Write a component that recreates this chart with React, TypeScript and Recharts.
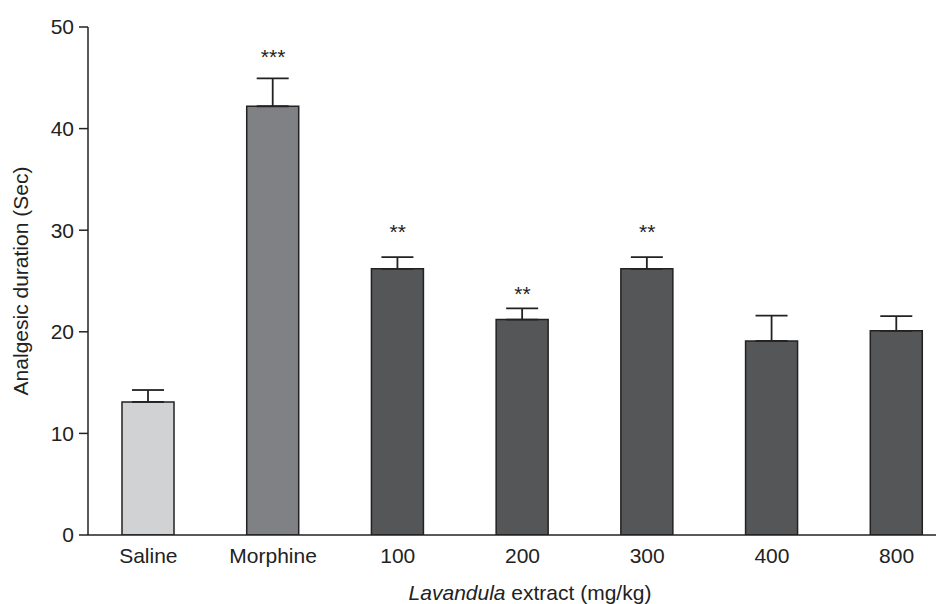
import React from 'react';
import { ComposedChart, Bar, XAxis, YAxis, ErrorBar, Scatter, Cell, Label } from 'recharts';

const categories = ['Saline', 'Morphine', '100', '200', '300', '400', '800'];
const durations = [13.1, 42.2, 26.2, 21.2, 26.2, 19.1, 20.1];
const semUpper = [1.17, 2.75, 1.15, 1.11, 1.15, 2.5, 1.44];
const significance = ['', '***', '**', '**', '**', '', ''];
const significanceY = [null, 47.5, 30.3, 24.2, 30.3, null, null];
const barColors = ['#d1d2d4', '#808184', '#555658', '#555658', '#555658', '#555658', '#555658'];
const yTicks = [0, 10, 20, 30, 40, 50];

const data = categories.map((c, i) => ({
  name: c,
  value: durations[i],
  err: [0, semUpper[i]],
  sig: significance[i],
  sigY: significanceY[i],
}));

const FONT = '"Liberation Sans", Arial, Helvetica, sans-serif';
const INK = '#222222';

const StarShape = (props: any) => {
  const { cx, cy, payload } = props;
  if (!payload || !payload.sig || cy == null || isNaN(cy)) return <g />;
  return (
    <text x={cx} y={cy + 12} textAnchor="middle" fontSize={21} fill={INK} fontFamily={FONT}>
      {payload.sig}
    </text>
  );
};

export default function App() {
  return (
    <ComposedChart
      width={936}
      height={596}
      data={data}
      margin={{ top: 19, right: 0, bottom: 0, left: 0 }}
      style={{ fontFamily: FONT }}
    >
      <XAxis
        dataKey="name"
        type="category"
        padding={{ left: -2, right: -15 }}
        height={69}
        tickLine={false}
        tickSize={0}
        tickMargin={13}
        axisLine={{ stroke: INK, strokeWidth: 1.5 }}
        tick={{ fontSize: 21, fill: INK, fontFamily: FONT }}
        interval={0}
      >
        <Label
          content={(p: any) => {
            const vb = p.viewBox || {};
            return (
              <text
                x={vb.x + vb.width / 2 + 14}
                y={vb.y + 65}
                textAnchor="middle"
                fontSize={21}
                fill={INK}
                fontFamily={FONT}
              >
                <tspan fontStyle="italic">Lavandula</tspan>
                <tspan> extract (mg/kg)</tspan>
              </text>
            );
          }}
        />
      </XAxis>
      <YAxis
        type="number"
        domain={[0, 50]}
        ticks={yTicks}
        width={80}
        tickSize={9}
        tickMargin={5}
        axisLine={{ stroke: INK, strokeWidth: 1.5 }}
        tickLine={{ stroke: INK, strokeWidth: 1.5 }}
        tick={{ fontSize: 21, fill: INK, fontFamily: FONT }}
        allowDataOverflow
      >
        <Label
          content={(p: any) => {
            const vb = p.viewBox || {};
            const cx = 20;
            const cy = vb.y + vb.height / 2;
            return (
              <text
                x={cx}
                y={cy}
                transform={`rotate(-90, ${cx}, ${cy})`}
                textAnchor="middle"
                fontSize={21}
                fill={INK}
                fontFamily={FONT}
              >
                Analgesic duration (Sec)
              </text>
            );
          }}
        />
      </YAxis>
      <Bar dataKey="value" barSize={52} stroke={INK} strokeWidth={1.5} isAnimationActive={false}>
        {data.map((d, i) => (
          <Cell key={d.name} fill={barColors[i]} />
        ))}
        <ErrorBar dataKey="err" width={16} stroke={INK} strokeWidth={1.8} direction="y" />
      </Bar>
      <Scatter dataKey="sigY" shape={StarShape} isAnimationActive={false} />
    </ComposedChart>
  );
}
